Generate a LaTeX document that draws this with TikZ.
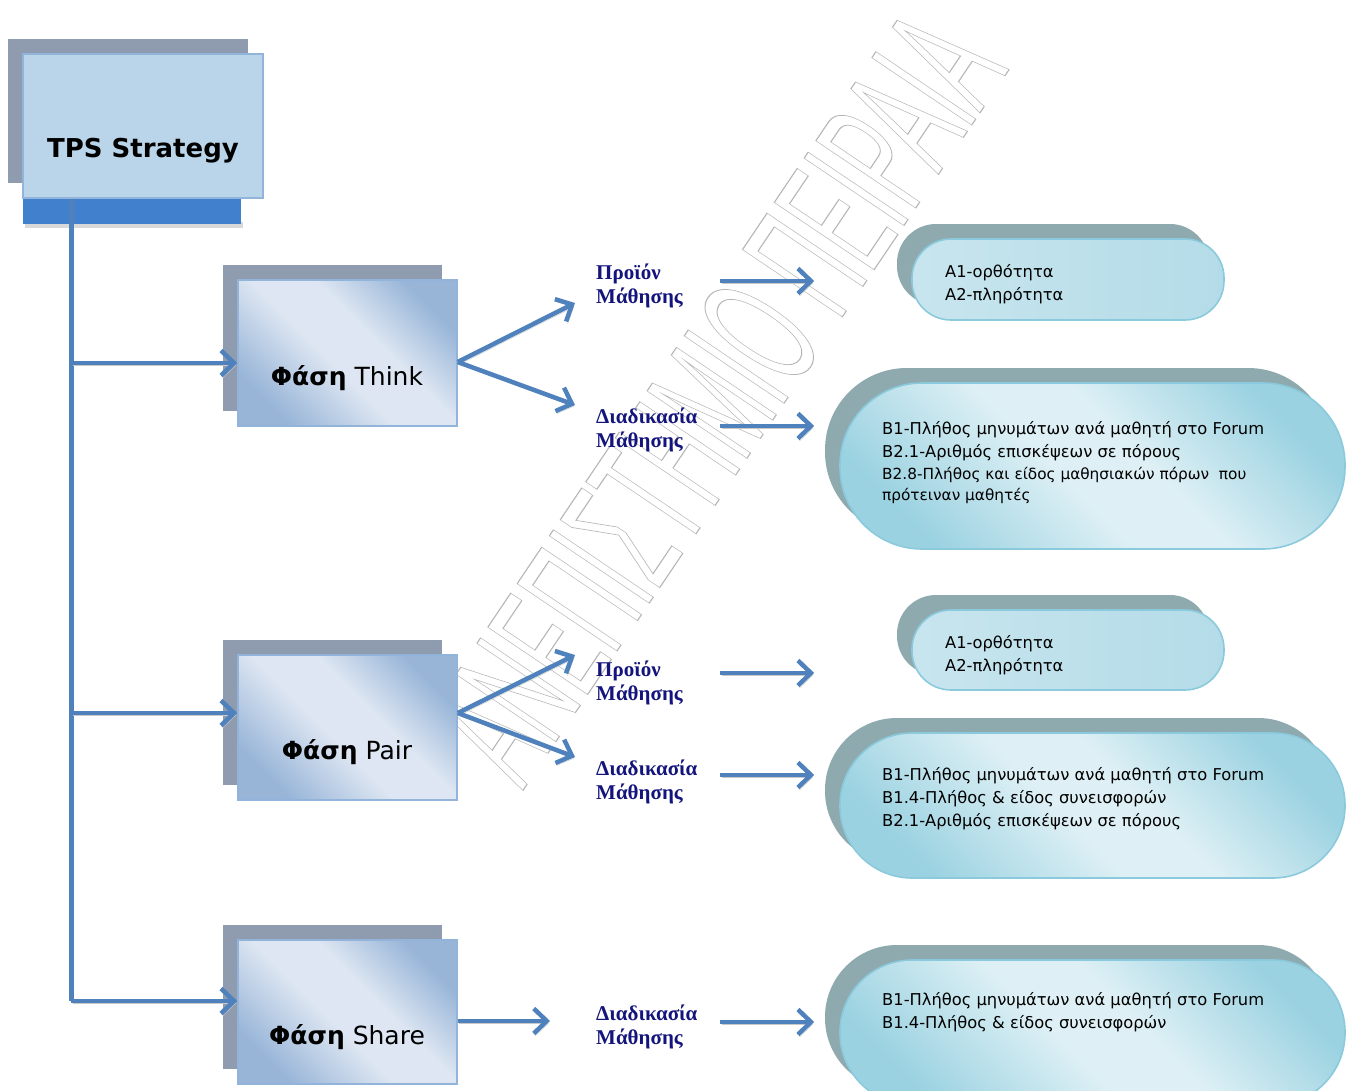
\documentclass[tikz,border=0pt]{standalone}
\usepackage{fontspec}
\setmainfont{DejaVu Sans}
\newfontfamily\labelfont{Liberation Serif}
\newfontfamily\markfont{Liberation Sans}
\usetikzlibrary{arrows.meta,shadows}

\definecolor{linkblue}{RGB}{79,129,189}
\definecolor{linkshade}{RGB}{200,200,200}
\definecolor{barblue}{RGB}{65,128,204}
\definecolor{boxgray}{RGB}{143,156,176}
\definecolor{tpsfill}{RGB}{186,212,233}
\definecolor{boxedge}{RGB}{146,179,218}
\definecolor{phaselight}{RGB}{221,230,242}
\definecolor{phasedark}{RGB}{152,181,216}
\definecolor{ovalgray}{RGB}{142,170,175}
\definecolor{ovallight}{RGB}{222,240,245}
\definecolor{ovaldark}{RGB}{155,210,225}
\definecolor{ovalsoft}{RGB}{200,229,238}
\definecolor{ovalright}{RGB}{180,220,232}
\definecolor{ovaledge}{RGB}{138,202,220}
\definecolor{navytext}{RGB}{20,20,125}
\definecolor{markgray}{RGB}{182,182,182}

% soft diagonal fills: dark corners, broad light band
\pgfdeclareverticalshading{phaseshade}{100bp}{color(0bp)=(phasedark); color(25bp)=(phasedark);
  color(45bp)=(phaselight); color(58bp)=(phaselight); color(75bp)=(phasedark); color(100bp)=(phasedark)}
\pgfdeclareverticalshading{ovalshade}{100bp}{color(0bp)=(ovaldark); color(25bp)=(ovaldark);
  color(46bp)=(ovallight); color(56bp)=(ovallight); color(75bp)=(ovaldark); color(100bp)=(ovaldark)}

\tikzset{
  backshadow/.style={general shadow={shadow xshift=-15pt,shadow yshift=15pt,fill=#1}},
  tpsbox/.style={rectangle, draw=boxedge, line width=1.5pt, fill=tpsfill,
    minimum width=240pt, minimum height=144pt, inner sep=0pt, backshadow=boxgray},
  phasebox/.style={rectangle, draw=boxedge, line width=1.5pt,
    shading=phaseshade, shading angle=-45,
    minimum width=219pt, inner sep=0pt, backshadow=boxgray},
  bigoval/.style={rectangle, rounded corners=#1, draw=ovaledge, line width=1.6pt,
    shading=ovalshade, shading angle=-45,
    minimum width=505pt, inner sep=0pt, backshadow=ovalgray},
  smalloval/.style={rectangle, rounded corners=39pt, draw=ovaledge, line width=1.6pt,
    left color=ovalsoft, middle color=ovalsoft, right color=ovalright,
    minimum width=312pt, inner sep=0pt, backshadow=ovalgray},
  phasetext/.style={font=\fontsize{25}{30}\selectfont, inner sep=0pt},
  stagelabel/.style={font=\labelfont\bfseries\fontsize{21}{24.5}\selectfont, text=navytext,
    align=left, anchor=north west, inner sep=0pt},
  itemtext/.style={font=\fontsize{16.3}{22.7}\selectfont, align=left, anchor=north west, inner sep=0pt},
  smalltext/.style={font=\fontsize{15.3}{21}\selectfont, align=left, anchor=north west, inner sep=0pt},
  link/.style={draw=linkblue, line width=4.5pt, -{Straight Barb[length=13pt,width=25pt]},
    preaction={draw=linkshade, transform canvas={shift={(1.5pt,-2.5pt)}}}},
  trunkline/.style={draw=linkblue, line width=4.5pt,
    preaction={draw=linkshade, transform canvas={shift={(2pt,-2pt)}}}},
}

\begin{document}
\begin{tikzpicture}[x=1pt,y=-1pt]
\useasboundingbox (0,0) rectangle (1347,1090);
\fill[white] (0,0) rectangle (1347,1090);

% outlined institution watermark (stroked glyphs only)
\node[rotate=56, anchor=base, inner sep=0pt] (mark) at (766,430)
  {\scalebox{0.45}[1]{\markfont\fontsize{175}{175}\selectfont\color{markgray}%
   \special{pdf:literal direct 1 Tr 1.1 w}ΑΝΕΠΙΣΤΗΜΙΟ ΠΕΙΡΑΙΑ\special{pdf:literal direct 0 Tr}}};

% root box with its bar
\fill[black!15] (25,222) rectangle (243,228);
\fill[barblue] (23,198) rectangle (241,224);
\node[tpsbox] (tps) at (143,126) {};
\node[font=\fontsize{26}{30}\selectfont\bfseries, inner sep=0pt] (tpstext) at (143,151) {TPS Strategy};

% phase boxes
\node[phasebox, minimum height=146pt] (think) at (347.5,353) {};
\node[phasebox, minimum height=145pt] (pair) at (347.5,727.5) {};
\node[phasebox, minimum height=144pt] (share) at (347.5,1012) {};
\node[phasetext] (thinktext) at (347,378) {\textbf{Φάση} Think};
\node[phasetext] (pairtext) at (347,752) {\textbf{Φάση} Pair};
\node[phasetext] (sharetext) at (347,1037) {\textbf{Φάση} Share};

% stage labels
\node[stagelabel] (thinkprod) at (596,263.5) {Προϊόν\\Μάθησης};
\node[stagelabel] (thinkproc) at (596,407.5) {Διαδικασία\\Μάθησης};
\node[stagelabel] (pairprod) at (596,660.5) {Προϊόν\\Μάθησης};
\node[stagelabel] (pairproc) at (596,759.5) {Διαδικασία\\Μάθησης};
\node[stagelabel] (shareproc) at (596,1004.5) {Διαδικασία\\Μάθησης};

% indicator ovals
\node[smalloval, minimum height=81pt] (ovTP) at (1068,279.5) {};
\node[bigoval=82pt, minimum height=166pt] (ovTD) at (1092.5,466) {};
\node[smalloval, minimum height=80pt] (ovPP) at (1068,650) {};
\node[bigoval=72pt, minimum height=145pt] (ovPD) at (1092.5,805.5) {};
\node[bigoval=72pt, minimum height=145pt] (ovSD) at (1092.5,1032.5) {};

\node[itemtext] (tTP) at (945,264.5) {Α1-ορθότητα\\Α2-πληρότητα};
\node[itemtext] (tTD) at (882,421.5) {Β1-Πλήθος μηνυμάτων ανά μαθητή στο Forum\\Β2.1-Αριθμός επισκέψεων σε πόρους};
\node[smalltext] (tTDb) at (882,467.5) {Β2.8-Πλήθος και είδος μαθησιακών πόρων~ που\\πρότειναν μαθητές};
\node[itemtext] (tPP) at (945,635.5) {Α1-ορθότητα\\Α2-πληρότητα};
\node[itemtext] (tPD) at (882,767.5) {Β1-Πλήθος μηνυμάτων ανά μαθητή στο Forum\\Β1.4-Πλήθος \& είδος συνεισφορών\\Β2.1-Αριθμός επισκέψεων σε πόρους};
\node[itemtext] (tSD) at (882,992.5) {Β1-Πλήθος μηνυμάτων ανά μαθητή στο Forum\\Β1.4-Πλήθος \& είδος συνεισφορών};

% tree connectors
\coordinate (trunk) at ([xshift=49pt]tps.south west);
\coordinate (thinkin) at ([shift={(0,10)}]think.west);
\coordinate (pairin) at ([shift={(0,-14.5)}]pair.west);
\coordinate (sharein) at ([shift={(0,-11)}]share.west);
\draw[trunkline] (trunk) -- (trunk |- sharein);
\draw[link] (trunk |- thinkin) -- (thinkin);
\draw[link] (trunk |- pairin) -- (pairin);
\draw[link] (trunk |- sharein) -- (sharein);

% phase to stage connectors
\coordinate (thinkout) at ([shift={(0,9)}]think.east);
\coordinate (pairout) at ([shift={(0,-14.5)}]pair.east);
\coordinate (shareout) at ([shift={(0,9)}]share.east);
\draw[link] (thinkout) -- ([shift={(-21,39.5)}]thinkprod.north west);
\draw[link] (thinkout) -- ([shift={(-21,-2.5)}]thinkproc.north west);
\draw[link] (pairout) -- ([shift={(-21,-5.5)}]pairprod.north west);
\draw[link] (pairout) -- ([shift={(-21,-2.5)}]pairproc.north west);
\draw[link] (shareout) -- ([shift={(-46,16.5)}]shareproc.north west);

% stage to indicator connectors
\draw[link] ([shift={(124,17.5)}]thinkprod.north west) -- ([shift={(-97,1.5)}]ovTP.west);
\draw[link] ([shift={(124,18.5)}]thinkproc.north west) -- ([shift={(-25,-40)}]ovTD.west);
\draw[link] ([shift={(124,12.5)}]pairprod.north west) -- ([shift={(-97,23)}]ovPP.west);
\draw[link] ([shift={(124,15.5)}]pairproc.north west) -- ([shift={(-25,-30.5)}]ovPD.west);
\draw[link] ([shift={(124,17.5)}]shareproc.north west) -- ([shift={(-25,-10.5)}]ovSD.west);
\end{tikzpicture}
\end{document}
